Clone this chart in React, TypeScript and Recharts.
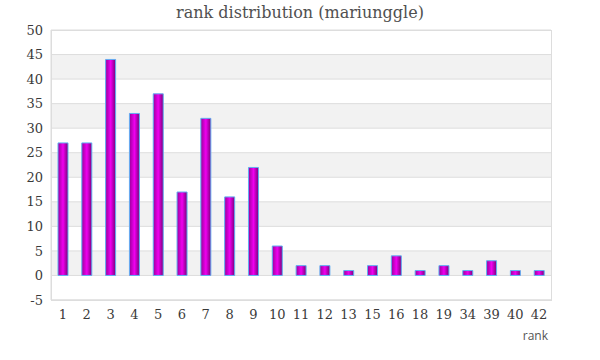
import React from 'react';
import { BarChart, Bar, XAxis, YAxis, CartesianGrid } from 'recharts';

const ranks = ['1','2','3','4','5','6','7','8','9','10','11','12','13','15','16','18','19','34','39','40','42'];
const counts = [27,27,44,33,37,17,32,16,22,6,2,2,1,2,4,1,2,1,3,1,1];
const yTicks = [-5,0,5,10,15,20,25,30,35,40,45,50];

const data = ranks.map((r, i) => ({ rank: r, count: counts[i] }));

const tickStyle = { fontFamily: 'Georgia, "DejaVu Serif", serif', fontSize: 13, fill: '#3a3a3a' };

export default function App() {
  return (
    <div style={{ position: 'absolute', left: 0, top: 0, width: 600, height: 360, background: '#fff' }}>
      <div style={{ position: 'absolute', left: 0, top: 3, width: 600, textAlign: 'center', fontFamily: '"DejaVu Serif", serif', fontSize: 16, color: '#505050' }}>
        rank distribution (mariunggle)
      </div>
      <BarChart width={600} height={360} data={data} margin={{ top: 30, right: 49, left: 0, bottom: 0 }}>
        <defs>
          <linearGradient id="barGrad" x1="0" y1="0" x2="1" y2="0">
            <stop offset="0%" stopColor="#9a009a" />
            <stop offset="50%" stopColor="#f000f0" />
            <stop offset="100%" stopColor="#7a007a" />
          </linearGradient>
        </defs>
        <CartesianGrid vertical={false} stroke="#dddddd" horizontalFill={['#ffffff', '#f2f2f2']} />
        <XAxis dataKey="rank" height={60} tickLine={false} axisLine={{ stroke: '#dddddd' }} tick={tickStyle} tickMargin={4} interval={0} />
        <YAxis width={51} domain={[-5, 50]} ticks={yTicks} tickLine={false} axisLine={{ stroke: '#dddddd' }} tick={tickStyle} interval={0} />
        <Bar dataKey="count" fill="url(#barGrad)" stroke="#62aef2" strokeWidth={1} barSize={10} isAnimationActive={false} />
      </BarChart>
      <div style={{ position: 'absolute', left: 500, top: 327, width: 48, textAlign: 'right', fontFamily: '"Open Sans", sans-serif', fontSize: 12, color: '#555' }}>
        rank
      </div>
      <div style={{ position: 'absolute', left: 51, top: 30, width: 499, height: 269, border: '1px solid #dddddd', boxSizing: 'content-box', pointerEvents: 'none' }} />
    </div>
  );
}
